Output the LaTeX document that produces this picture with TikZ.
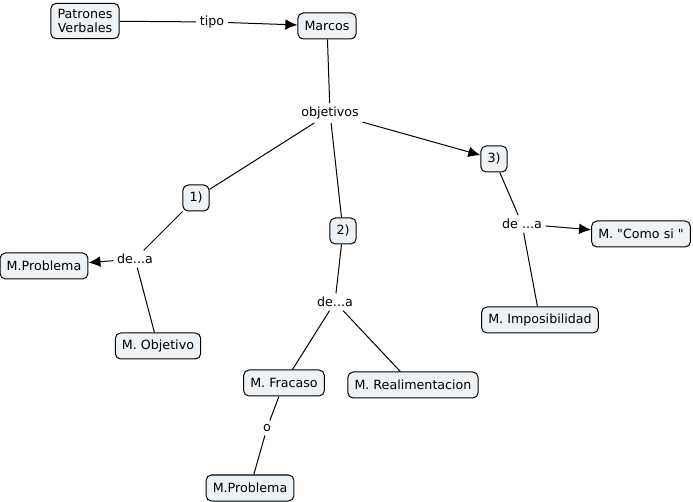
\documentclass[tikz,border=0pt]{standalone}
\usepackage{fontspec}
\setmainfont{DejaVu Sans}
\usepackage{xcolor}
\usepackage{tikz}
\usetikzlibrary{arrows.meta}
\definecolor{conceptfill}{RGB}{236,242,246}

\begin{document}
\begin{tikzpicture}[node distance=0pt, >={Latex[length=9pt,width=8pt]}, line width=0.75pt,
    every node/.style={font=\fontsize{9.5}{10.5}\selectfont},
    concept/.style={draw, rectangle, rounded corners=4pt, fill=conceptfill, align=center, inner xsep=5pt, inner ysep=4.5pt, minimum height=19.5pt},
    linklabel/.style={inner sep=2.5pt}]
    \useasboundingbox (-63.75pt,15.75pt) rectangle (456pt,-360.75pt);

    % Top
    \node[concept] (patrones) {Patrones\\Verbales};
    \node[concept, right of=patrones, node distance=181.5pt, yshift=-3.75pt] (marcos) {Marcos};
    \node[linklabel, right of=patrones, node distance=95.25pt, yshift=-0.75pt] (tipo) {tipo};
    \node[linklabel, below of=marcos, node distance=65.25pt, xshift=2.25pt] (objetivos) {objetivos};
    \draw (patrones) -- (tipo);
    \draw[->] (tipo) -- (marcos);
    \draw (marcos) -- (objetivos);

    % Objetivos
    \node[concept, below of=objetivos, node distance=63.75pt, xshift=-100.5pt] (obj1) {1)};
    \node[concept, below of=objetivos, node distance=88.5pt, xshift=9.75pt] (obj2) {2)};
    \node[concept, below of=objetivos, node distance=34.5pt, xshift=123pt] (obj3) {3)};
    \draw (objetivos) -- (obj1);
    \draw (objetivos) -- (obj2);
    \draw[->] (objetivos) -- (obj3);

    % 1) de...a
    \node[linklabel, below of=obj1, node distance=45.75pt, xshift=-45.75pt] (dea-1) {de...a};
    \node[concept, below of=dea-1, node distance=5.25pt, xshift=-68.25pt] (mproblema-1) {M.Problema};
    \node[concept, below of=dea-1, node distance=65.25pt, xshift=17.25pt] (mobjetivo) {M. Objetivo};
    \draw (obj1) -- (dea-1);
    \draw[->] (dea-1) -- (mproblema-1);
    \draw (dea-1) -- (mobjetivo);

    % 2) de...a
    \node[linklabel, below of=obj2, node distance=53.25pt, xshift=-6pt] (dea-2) {de...a};
    \node[concept, below of=dea-2, node distance=60.75pt, xshift=-38.25pt] (mfracaso) {M. Fracaso};
    \node[concept, below of=dea-2, node distance=62.25pt, xshift=58.5pt] (mrealim) {M. Realimentacion};
    \node[linklabel, below of=mfracaso, node distance=33.75pt, xshift=-12.75pt] (o-label) {o};
    \node[concept, below of=o-label, node distance=45pt, xshift=-12.75pt] (mproblema-2) {M.Problema};
    \draw (obj2) -- (dea-2);
    \draw (dea-2) -- (mfracaso);
    \draw (dea-2) -- (mrealim);
    \draw (mfracaso) -- (o-label);
    \draw (o-label) -- (mproblema-2);

    % 3) de ...a
    \node[linklabel, below of=obj3, node distance=48.75pt, xshift=21pt] (dea-3) {de ...a};
    \node[concept, below of=dea-3, node distance=7.5pt, xshift=89.25pt] (comosi) {M. \textquotedbl Como si~\textquotedbl};
    \node[concept, below of=dea-3, node distance=72pt, xshift=13.5pt] (mimposib) {M. Imposibilidad};
    \draw (obj3) -- (dea-3);
    \draw[->] (dea-3) -- (comosi);
    \draw (dea-3) -- (mimposib);
\end{tikzpicture}
\end{document}
